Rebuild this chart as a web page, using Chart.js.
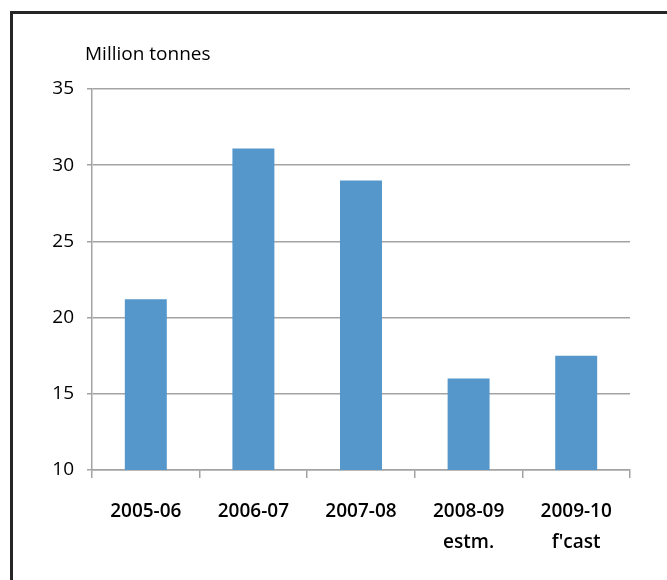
<!DOCTYPE html>
<html>
<head>
<meta charset="utf-8">
<script src="https://cdn.jsdelivr.net/npm/chart.js@4/dist/chart.umd.min.js"></script>
<style>
  html, body { margin: 0; padding: 0; background: #fff; overflow: hidden; }
  #wrap { position: relative; width: 667px; height: 580px; }
  #frame { position: absolute; left: 10px; top: 11px; width: 700px; height: 620px;
           border-left: 3px solid #262626; border-top: 3px solid #262626; box-sizing: border-box; }
  canvas { position: absolute; left: 0; top: 0; }
</style>
</head>
<body>
<div id="wrap">
  <div id="frame"></div>
  <canvas id="c" width="667" height="580"></canvas>
</div>
<script>
// Production by marketing year, million tonnes
const categories = [["2005-06"], ["2006-07"], ["2007-08"], ["2008-09", "estm."], ["2009-10", "f'cast"]];
const production = [21.2, 31.1, 29.0, 16.0, 17.5];
const yTicks = [10, 15, 20, 25, 30, 35];
const unitLabel = "Million tonnes";

const FONT = "'Open Sans', 'Noto Sans', sans-serif";
const GRID = "#a3a3a3";

// Unit caption drawn above the value axis
const unitCaption = {
  id: "unitCaption",
  afterDraw(chart) {
    const ctx = chart.ctx;
    ctx.save();
    ctx.font = "500 19px " + FONT;
    ctx.fillStyle = "#000";
    ctx.textAlign = "left";
    ctx.textBaseline = "middle";
    ctx.fillText(unitLabel, chart.chartArea.left - 7, 55);
    ctx.restore();
  }
};

new Chart(document.getElementById("c"), {
  type: "bar",
  data: {
    labels: categories,
    datasets: [{
      data: production,
      backgroundColor: "#5597cb",
      borderWidth: 0,
      categoryPercentage: 1.0,
      barPercentage: 0.39
    }]
  },
  options: {
    responsive: false,
    animation: false,
    events: [],
    layout: { padding: { left: 0, right: 37, top: 89, bottom: 0 } },
    plugins: { legend: { display: false }, tooltip: { enabled: false }, title: { display: false } },
    scales: {
      x: {
        grid: { drawOnChartArea: false, drawTicks: true, tickLength: 8, color: GRID, lineWidth: 1.5 },
        border: { color: GRID, width: 1.5 },
        ticks: { color: "#000", font: { family: FONT, size: 19, weight: "600", lineHeight: 1.63 }, padding: 18, maxRotation: 0 },
        afterFit(scale) { scale.height = 110; }
      },
      y: {
        min: 10, max: 35,
        afterBuildTicks(scale) { scale.ticks = yTicks.map(v => ({ value: v })); },
        grid: { drawTicks: true, tickLength: 5, color: GRID, lineWidth: 1.5 },
        border: { color: GRID, width: 1.5 },
        ticks: { color: "#000", font: { family: FONT, size: 19 }, padding: 13 },
        afterFit(scale) { scale.width = 92; }
      }
    }
  },
  plugins: [unitCaption]
});
</script>
</body>
</html>
